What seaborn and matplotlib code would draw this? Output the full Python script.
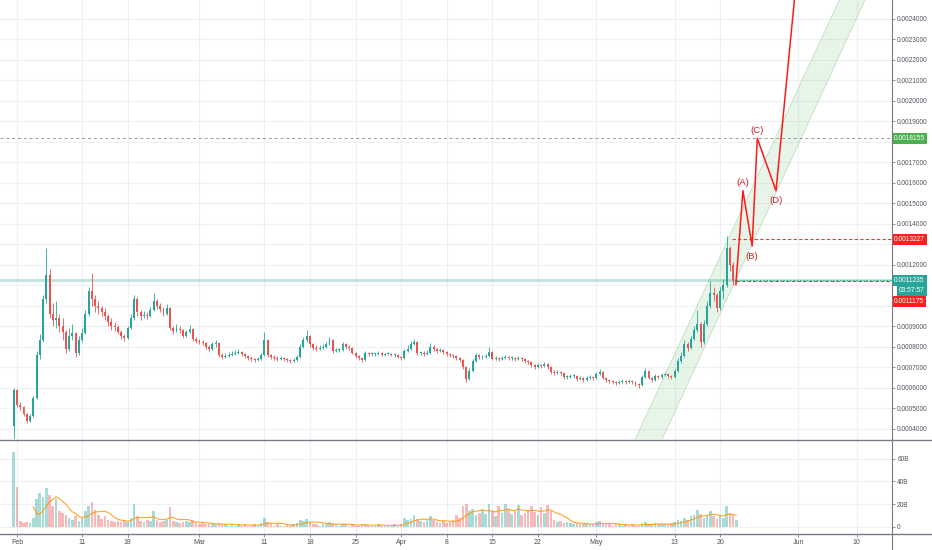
import numpy as np
import pandas as pd
import matplotlib
matplotlib.use('Agg')
import matplotlib.pyplot as plt
import matplotlib.dates as mdates
from matplotlib.lines import Line2D
import seaborn as sns

sns.set_theme(style='white')
plt.rcParams['font.family'] = ['Liberation Sans', 'DejaVu Sans']

UP = '#26a69a'
DOWN = '#ef5350'
GRID = '#edf0f5'
TEXT = '#50535e'

# prices are in units of 1e-7, one candle every 12 hours
SCALE = 1e-7
first_open = 4100
close = [
    5900, 5150, 5050, 4700, 4350, 4600, 5500, 7600, 8300, 10300,
    11500, 9600, 9300, 9400, 9000, 8700, 7900, 8500, 8650, 7700,
    8300, 8650, 9600, 10700, 10300, 10000, 9900, 9700, 9500, 9200,
    9000, 8950, 8700, 8500, 8400, 8900, 9400, 10300, 9700, 9500,
    9550, 9500, 9800, 10200, 10000, 9850, 9600, 9900, 8900, 8750,
    8850, 8800, 8500, 8700, 8850, 8350, 8250, 8200, 8150, 8000,
    7900, 8100, 8150, 7600, 7500, 7550, 7600, 7650, 7700, 7750,
    7650, 7550, 7450, 7400, 7350, 7400, 7600, 8300, 7600, 7500,
    7450, 7400, 7450, 7400, 7350, 7300, 7350, 7500, 8000, 8300,
    8500, 8100, 7950, 7900, 7950, 8000, 8100, 8300, 7800, 7850,
    7850, 8100, 8000, 7950, 7700, 7550, 7450, 7350, 7700, 7650,
    7650, 7650, 7700, 7600, 7650, 7650, 7600, 7600, 7500, 7450,
    7800, 7900, 8100, 8200, 7700, 7700, 7650, 7700, 8000, 7900,
    7800, 7850, 7750, 7650, 7600, 7550, 7450, 7350, 7000, 6400,
    6800, 7300, 7600, 7500, 7500, 7550, 7750, 7400, 7450, 7400,
    7450, 7500, 7450, 7450, 7400, 7450, 7400, 7300, 7250, 7100,
    7000, 7100, 7050, 7150, 7000, 6750, 6700, 6750, 6700, 6500,
    6500, 6550, 6550, 6400, 6450, 6350, 6450, 6500, 6450, 6650,
    6750, 6450, 6350, 6300, 6250, 6200, 6250, 6300, 6250, 6300,
    6250, 6150, 6100, 6500, 6800, 6450, 6350, 6550, 6500, 6600,
    6650, 6550, 6500, 6800, 7300, 7550, 8100, 7950, 8350, 8800,
    9100, 8200, 9100, 10000, 10600, 10500, 9900, 10700, 11000, 12800,
    12000, 11200, 11235,
]
high = [
    6000, 5950, 5300, 5100, 4750, 4700, 5600, 7800, 8600, 10500,
    12800, 11800, 10100, 10200, 9600, 9400, 8800, 8900, 9100, 8700,
    8500, 8900, 9800, 10900, 11600, 10500, 10200, 10000, 9900, 9600,
    9400, 9200, 9050, 8800, 8600, 9000, 9600, 10500, 10400, 9800,
    9750, 9700, 9950, 10600, 10300, 10100, 9950, 10050, 9950, 9000,
    9100, 9000, 8850, 8800, 9050, 8900, 8450, 8350, 8300, 8200,
    8050, 8200, 8300, 8200, 7700, 7700, 7750, 7800, 7850, 7900,
    7800, 7700, 7600, 7550, 7450, 7500, 7700, 8700, 8350, 7650,
    7600, 7550, 7550, 7500, 7450, 7400, 7450, 7600, 8100, 8450,
    8800, 8550, 8150, 8050, 8050, 8100, 8200, 8450, 8350, 7950,
    7950, 8200, 8150, 8050, 8000, 7750, 7600, 7500, 7800, 7750,
    7750, 7700, 7800, 7750, 7700, 7750, 7700, 7700, 7650, 7550,
    7900, 8050, 8250, 8350, 8250, 7800, 7800, 7850, 8150, 8050,
    7950, 7950, 7900, 7800, 7700, 7650, 7600, 7500, 7400, 7050,
    6950, 7400, 7700, 7650, 7600, 7650, 8000, 7800, 7550, 7500,
    7550, 7600, 7550, 7550, 7500, 7550, 7500, 7450, 7350, 7300,
    7150, 7200, 7150, 7250, 7200, 7050, 6850, 6850, 6800, 6750,
    6600, 6650, 6650, 6600, 6550, 6500, 6550, 6600, 6550, 6750,
    6900, 6800, 6500, 6400, 6350, 6300, 6350, 6400, 6350, 6400,
    6350, 6300, 6200, 6600, 6950, 6850, 6500, 6650, 6600, 6700,
    6750, 6700, 6600, 6900, 7450, 7750, 8300, 8200, 8500, 9000,
    9800, 9200, 9300, 10200, 11200, 10900, 10600, 10900, 11300, 13400,
    12900, 12100, 11450,
]
low = [
    3500, 5050, 4900, 4600, 4250, 4300, 4550, 5450, 7400, 8200,
    10100, 9400, 9000, 8900, 8700, 8300, 7700, 7800, 8300, 7500,
    7600, 8200, 8600, 9500, 10000, 9700, 9600, 9500, 9300, 9000,
    8800, 8750, 8600, 8350, 8250, 8350, 8850, 9300, 9500, 9300,
    9400, 9350, 9450, 9750, 9850, 9700, 9500, 9550, 8800, 8600,
    8700, 8650, 8400, 8450, 8650, 8250, 8150, 8100, 8050, 7900,
    7800, 7850, 8000, 7500, 7400, 7450, 7500, 7550, 7600, 7650,
    7550, 7450, 7350, 7300, 7250, 7300, 7350, 7550, 7500, 7400,
    7350, 7300, 7350, 7300, 7250, 7200, 7250, 7300, 7450, 7950,
    8200, 8000, 7850, 7800, 7850, 7900, 7950, 8050, 7700, 7750,
    7750, 7800, 7900, 7850, 7650, 7450, 7350, 7250, 7300, 7550,
    7550, 7550, 7600, 7550, 7550, 7600, 7550, 7500, 7450, 7350,
    7400, 7750, 7850, 8050, 7600, 7600, 7550, 7600, 7650, 7800,
    7700, 7750, 7650, 7550, 7500, 7450, 7350, 7250, 6900, 6250,
    6350, 6750, 7250, 7400, 7400, 7450, 7500, 7350, 7350, 7300,
    7350, 7400, 7350, 7350, 7300, 7350, 7300, 7200, 7150, 7000,
    6900, 6950, 6950, 7000, 6900, 6650, 6600, 6650, 6600, 6400,
    6400, 6450, 6450, 6300, 6350, 6250, 6300, 6400, 6350, 6400,
    6600, 6400, 6250, 6200, 6150, 6100, 6150, 6200, 6150, 6200,
    6150, 6050, 6000, 6050, 6450, 6400, 6250, 6300, 6400, 6450,
    6550, 6450, 6400, 6450, 6750, 7200, 7500, 7800, 7900, 8300,
    8700, 8000, 8100, 9000, 9900, 10200, 9700, 9800, 10300, 10900,
    11700, 11000, 11100,
]
# volume in billions
volume = [
    66, 35, 5, 3, 4, 3, 8, 24, 30, 26,
    34, 28, 18, 24, 14, 12, 10, 8, 6, 9,
    5, 8, 14, 18, 22, 15, 10, 7, 9, 6,
    5, 4, 5, 4, 6, 4, 8, 20, 9, 5,
    4, 6, 5, 14, 6, 4, 5, 6, 17, 5,
    4, 3, 4, 5, 4, 6, 3, 2, 3, 2,
    2, 3, 2, 3, 2, 2, 1, 2, 1, 2,
    1, 2, 1, 1, 2, 1, 3, 8, 4, 2,
    1, 2, 1, 1, 2, 1, 2, 3, 6, 5,
    7, 4, 2, 2, 1, 2, 2, 4, 3, 2,
    1, 2, 2, 1, 2, 1, 1, 2, 2, 1,
    1, 1, 2, 1, 1, 1, 1, 2, 1, 2,
    8, 6, 7, 10, 7, 5, 4, 6, 9, 6,
    4, 3, 5, 3, 4, 6, 10, 8, 18, 20,
    14, 16, 10, 12, 15, 11, 20, 14, 9, 18,
    12, 20, 16, 11, 14, 19, 10, 12, 15, 18,
    13, 10, 17, 12, 19, 14, 6, 4, 5, 3,
    4, 3, 2, 3, 2, 2, 3, 2, 2, 4,
    5, 3, 2, 2, 1, 2, 2, 1, 2, 1,
    2, 1, 1, 3, 4, 2, 2, 3, 2, 2,
    2, 2, 3, 4, 6, 5, 8, 6, 9, 10,
    15, 11, 8, 10, 14, 9, 7, 10, 8, 18,
    12, 10, 6,
]
assert len(close) == len(high) == len(low) == len(volume)

# drawings
wave_times = ['2019-05-22 10:00', '2019-05-23 12:00', '2019-05-24 22:00',
              '2019-05-25 17:00', '2019-05-28 14:00', '2019-05-31 17:00']
wave_prices = [0.00110, 0.00156, 0.00129, 0.0018155, 0.00156, 0.00259]
wave_names = ['', '(A)', '(B)', '(C)', '(D)', '']
channel_times = ['2019-05-10', '2019-06-01']
channel_upper = [0.000556, 0.002059]
channel_lower = [0.000272, 0.001785]

level_green = 0.0018155
level_red_hi = 0.0013227
level_last = 0.0011235
level_red_lo = 0.0011175
countdown = '03:57:57'

price_ticks = [0.0004, 0.0005, 0.0006, 0.0007, 0.0008, 0.0009, 0.0010, 0.0011,
               0.0012, 0.0013, 0.0014, 0.0015, 0.0016, 0.0017, 0.0018, 0.0019,
               0.0020, 0.0021, 0.0022, 0.0023, 0.0024]
# tick labels that sit under the price boxes on the axis
hidden_ticks = [0.0010, 0.0011, 0.0013, 0.0018]
vol_ticks = [0, 20, 40, 60]
vol_labels = ['0', '20B', '40B', '60B']
date_ticks = ['2019-02-01', '2019-02-11', '2019-02-18', '2019-03-01', '2019-03-11',
              '2019-03-18', '2019-03-25', '2019-04-01', '2019-04-08', '2019-04-15',
              '2019-04-22', '2019-05-01', '2019-05-13', '2019-05-20', '2019-06-01',
              '2019-06-10']
date_labels = ['Feb', '11', '18', 'Mar', '11', '18', '25', 'Apr', '8', '15', '22',
               'May', '13', '20', 'Jun', '10']

times = pd.date_range('2019-01-31 12:00', periods=len(close), freq='12h')
t = mdates.date2num(times)
c = np.array(close) * SCALE
o = np.array([first_open] + close[:-1]) * SCALE
h = np.array(high) * SCALE
l = np.array(low) * SCALE
colors = np.where(c >= o, UP, DOWN)

fig = plt.figure(figsize=(9.32, 5.5), dpi=100)
fig.patch.set_facecolor('white')
W, H = 932.0, 550.0
ax = fig.add_axes([0, 111 / H, 892 / W, 439 / H])
axv = fig.add_axes([0, 16 / H, 892 / W, 94 / H], sharex=ax)

feb1 = mdates.date2num(pd.Timestamp('2019-02-01'))
ax.set_xlim(feb1 - 2.61, feb1 + 134.4)
ax.set_ylim(0.0003488, 0.0024903)
axv.set_ylim(-6.43, 76.4)

# candles
ax.vlines(t, l, h, color=colors, lw=0.6, zorder=3)
body = np.maximum(np.abs(c - o), 0.000004)
ax.bar(t, body, bottom=np.minimum(o, c), width=0.3, color=colors, lw=0, zorder=3)

# volume + moving average
axv.bar(t, volume, width=0.4, color=colors, alpha=0.4, lw=0)
vol_ma = pd.Series(volume, dtype=float).rolling(7).mean()
sns.lineplot(x=t, y=vol_ma.values, ax=axv, color='#ff9800', lw=0.8, alpha=0.85)

# channel
ct = mdates.date2num(pd.to_datetime(channel_times))
ext = np.array([ct[0] - 6, ct[1] + 12])
slope_u = (channel_upper[1] - channel_upper[0]) / (ct[1] - ct[0])
slope_l = (channel_lower[1] - channel_lower[0]) / (ct[1] - ct[0])
up_line = channel_upper[0] + slope_u * (ext - ct[0])
lo_line = channel_lower[0] + slope_l * (ext - ct[0])
ax.fill_between(ext, lo_line, up_line, color='#4caf50', alpha=0.13, lw=0, zorder=2)
ax.plot(ext, up_line, color='#bcd9b8', lw=0.5, zorder=2)
ax.plot(ext, lo_line, color='#bcd9b8', lw=0.5, zorder=2)

# horizontal levels
xr = ax.get_xlim()[1]
ax.axhline(level_green, color='#9598a1', lw=0.7, ls=(0, (3, 3)), zorder=2)
ax.axhline(level_last, color=UP, lw=2, alpha=0.3, zorder=2)
ax.hlines(level_last, t[-1], xr, color=UP, lw=0.6, linestyles=(0, (2, 2)), zorder=2)
ax.hlines(level_red_hi, mdates.date2num(pd.Timestamp('2019-05-21 20:00')), xr,
          color='#f23645', lw=0.8, linestyles=(0, (3, 2)), zorder=2)
ax.hlines(level_red_lo, mdates.date2num(pd.Timestamp('2019-05-22 11:00')), xr,
          color='#f23645', lw=0.8, linestyles=(0, (3, 2)), zorder=2)

# wave path
wt = mdates.date2num(pd.to_datetime(wave_times))
sns.lineplot(x=wt, y=wave_prices, ax=ax, color='#ff1a1a', lw=1.1, sort=False,
             estimator=None, zorder=5)
for name, x, y in zip(wave_names, wt, wave_prices):
    if not name:
        continue
    dy = 8 if name in ('(A)', '(C)') else -10
    ax.annotate(name, xy=(x, y), xytext=(0, dy), textcoords='offset pixels',
                ha='center', va='center', fontsize=6.8, color='#d0212a', zorder=6)

# grid and axes
for a in (ax, axv):
    for s in a.spines.values():
        s.set_visible(False)
    a.set_facecolor('white')
    a.set_xticks(mdates.date2num(pd.to_datetime(date_ticks)))
    a.grid(True, color=GRID, lw=0.8)
    a.set_axisbelow(True)
    a.yaxis.tick_right()
    a.tick_params(axis='y', length=2.2, width=0.6, color='#787b86', labelsize=4.7,
                  labelcolor=TEXT, pad=1.5, right=True, left=False,
                  labelright=True, labelleft=False)

ax.set_yticks(price_ticks)
ax.set_yticklabels(['' if any(abs(v - hdn) < 1e-9 for hdn in hidden_ticks)
                    else '%.7f' % v for v in price_ticks])
ax.tick_params(axis='x', length=0, labelbottom=False)
axv.set_yticks(vol_ticks)
axv.set_yticklabels(vol_labels)
axv.set_xticklabels(date_labels)
axv.tick_params(axis='x', length=2.2, width=0.6, color='#787b86', labelsize=5,
                labelcolor=TEXT, pad=1.5, bottom=True)
axv.set_xlabel('')
axv.set_ylabel('')
ax.set_ylabel('')

# price labels on the axis
boxes = [(level_green, '%.7f' % level_green, '#4caf50', 2, 0),
         (level_red_hi, '%.7f' % level_red_hi, '#ff1e1e', 2, 0),
         (level_last, '%.7f' % level_last, UP, 2, 0),
         (level_last, countdown, UP, 7, -10),
         (level_red_lo, '%.7f' % level_red_lo, '#ff1e1e', 2, -20)]
for y, txt, col, dx, dy in boxes:
    ax.annotate(txt, xy=(1, y), xycoords=ax.get_yaxis_transform(),
                xytext=(dx, dy), textcoords='offset pixels', ha='left', va='center',
                fontsize=4.8, color='white', annotation_clip=False, zorder=10,
                bbox=dict(boxstyle='square,pad=0.3', fc=col, ec='none'))

# pane separators and axis lines
fig.add_artist(Line2D([0, 1], [110.5 / H] * 2, color='#787b86', lw=1))
fig.add_artist(Line2D([0, 1], [16 / H] * 2, color='#787b86', lw=1))
fig.add_artist(Line2D([892 / W] * 2, [0, 1], color='#787b86', lw=0.8))

fig.savefig('out.png', dpi=100, facecolor='white')
